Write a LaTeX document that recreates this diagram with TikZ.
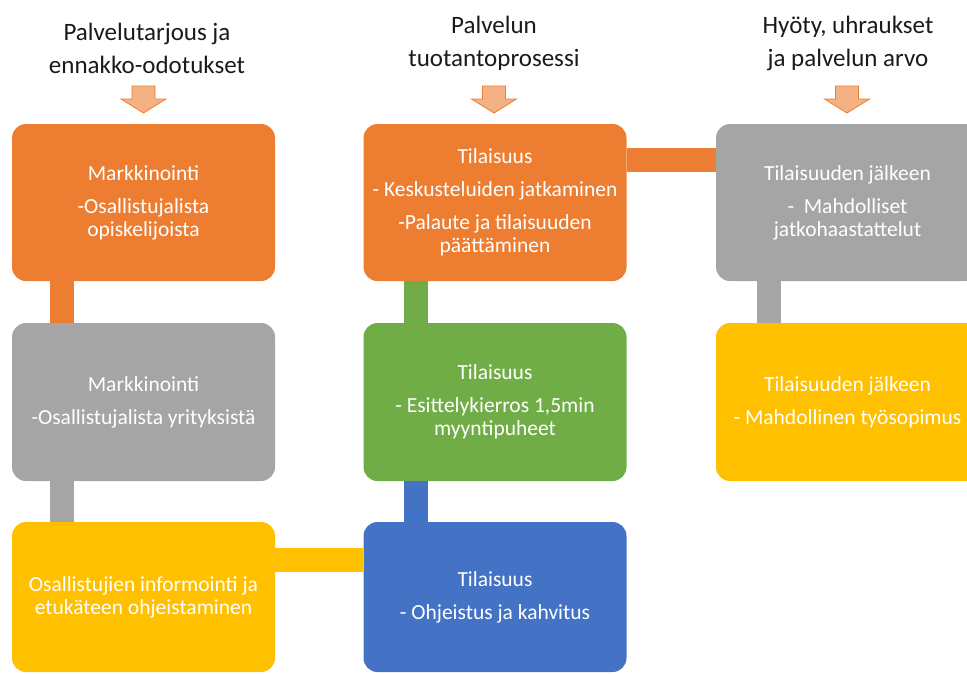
\documentclass[tikz,border=0pt]{standalone}
\usepackage{fontspec}
\setmainfont{Carlito}
\definecolor{cOrange}{HTML}{ED7D31}
\definecolor{cGray}{HTML}{A5A5A5}
\definecolor{cYellow}{HTML}{FFC000}
\definecolor{cGreen}{HTML}{70AD47}
\definecolor{cBlue}{HTML}{4472C4}
\definecolor{cArrow}{HTML}{F4B183}
\definecolor{cTitle}{HTML}{1A1A1A}
\begin{document}
\begin{tikzpicture}[x=1pt,y=-1pt,
  box/.style={rounded corners=14pt, inner sep=0pt, minimum width=263pt,
    text=white, align=center, font=\fontsize{21.5}{23}\selectfont},
  title/.style={text=cTitle, align=center, font=\fontsize{25}{33}\selectfont},
  bar/.style={line width=24pt},
  downarrow/.pic={\draw[fill=cArrow, draw=cOrange, line width=0.8pt, line join=miter]
    (-11.5,0) -- (11.5,0) -- (11.5,13) -- (22.5,13) -- (0,27) -- (-22.5,13) -- (-11.5,13) -- cycle;}
]
\useasboundingbox (0,0) rectangle (967,673);
\clip (0,0) rectangle (967,673);

% column headings
\node[title] (h1) at (147,48) {Palvelutarjous ja\\ennakko-odotukset};
\node[title] (h2) at (494,43) {Palvelun\\tuotantoprosessi};
\node[title] (h3) at (848,43) {Hyöty, uhraukset\\ja palvelun arvo};

\pic at (143.5,86) {downarrow};
\pic at (494,86) {downarrow};
\pic at (847,86) {downarrow};

% first column
\node[box, fill=cOrange, minimum height=157pt] (a1) at (143.5,202.5)
  {Markkinointi\\[10pt]-Osallistujalista\\opiskelijoista};
\node[box, fill=cGray, minimum height=158pt] (a2) at (143.5,402)
  {Markkinointi\\[10pt]-Osallistujalista yrityksistä};
\node[box, fill=cYellow, minimum height=150pt] (a3) at (143.5,597)
  {Osallistujien informointi ja\\etukäteen ohjeistaminen};

% second column
\node[box, fill=cOrange, minimum height=157pt] (b1) at (495,202.5)
  {Tilaisuus\\[10pt]- Keskusteluiden jatkaminen\\[10pt]-Palaute ja tilaisuuden\\päättäminen};
\node[box, fill=cGreen, minimum height=158pt] (b2) at (495,402)
  {Tilaisuus\\[10pt]- Esittelykierros 1,5min\\myyntipuheet};
\node[box, fill=cBlue, minimum height=150pt] (b3) at (495,597)
  {Tilaisuus\\[10pt]- Ohjeistus ja kahvitus};

% third column
\node[box, fill=cGray, minimum height=157pt] (c1) at (847.5,202.5)
  {Tilaisuuden jälkeen\\[10pt]-\ \ Mahdolliset\\jatkohaastattelut};
\node[box, fill=cYellow, minimum height=158pt] (c2) at (847.5,402)
  {Tilaisuuden jälkeen\\[10pt]- Mahdollinen työsopimus};

% connecting bars
\draw[bar, draw=cOrange] ([xshift=50.5pt]a1.south west) -- ([xshift=50.5pt]a2.north west);
\draw[bar, draw=cGray] ([xshift=50.5pt]a2.south west) -- ([xshift=50.5pt]a3.north west);
\draw[bar, draw=cYellow] ([yshift=-38pt]a3.north east) -- ([yshift=-38pt]b3.north west);
\draw[bar, draw=cGreen] ([xshift=53pt]b1.south west) -- ([xshift=53pt]b2.north west);
\draw[bar, draw=cBlue] ([xshift=53pt]b2.south west) -- ([xshift=53pt]b3.north west);
\draw[bar, draw=cOrange] ([yshift=-36pt]b1.north east) -- ([yshift=-36pt]c1.north west);
\draw[bar, draw=cGray] ([xshift=53pt]c1.south west) -- ([xshift=53pt]c2.north west);
\end{tikzpicture}
\end{document}
